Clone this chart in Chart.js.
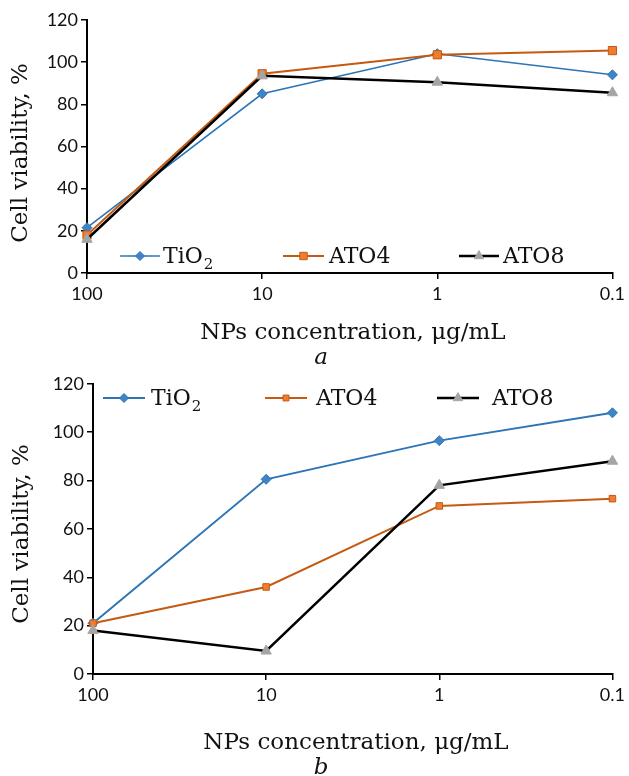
<!DOCTYPE html>
<html>
<head>
<meta charset="utf-8">
<script src="https://cdn.jsdelivr.net/npm/chart.js@4.4.0/dist/chart.umd.min.js"></script>
<style>
  body { margin: 0; background: #fff; }
  .panel { position: absolute; left: 0; }
</style>
</head>
<body>
<canvas id="chartA" class="panel" width="629" height="370" style="top:0"></canvas>
<canvas id="chartB" class="panel" width="629" height="406" style="top:370px"></canvas>
<script>
// concentrations on the x axis, ug/mL
var concentrations = ['100', '10', '1', '0.1'];
var seriesNames = ['TiO\u2082', 'ATO4', 'ATO8'];
var yTicks = [0, 20, 40, 60, 80, 100, 120];

// panel a
var tio2A = [21.5, 85, 104, 94];
var ato4A = [18, 94.5, 103.5, 105.5];
var ato8A = [16, 93.5, 90.5, 85.5];

// panel b
var tio2B = [21, 80.5, 96.5, 108];
var ato4B = [21, 36, 69.5, 72.5];
var ato8B = [18, 9.5, 78, 88];

var serif = '"DejaVu Serif", serif';

function makeDatasets(t, a4, a8, big) {
  return [
    {
      label: seriesNames[0], data: t, order: 3,
      borderColor: '#2e75b6', backgroundColor: '#3f85c6', borderWidth: big ? 1.6 : 2,
      pointStyle: 'rectRot', pointRadius: 5, pointBorderWidth: 1, pointBorderColor: '#2e75b6'
    },
    {
      label: seriesNames[1], data: a4, order: 2,
      borderColor: '#c55a11', backgroundColor: '#ed7d31', borderWidth: 2,
      pointStyle: 'rect', pointRadius: big ? 5.8 : 4.6, pointBorderWidth: 1, pointBorderColor: '#c55a11'
    },
    {
      label: seriesNames[2], data: a8, order: 1,
      borderColor: '#000', backgroundColor: '#a5a5a5', borderWidth: 2.5,
      pointStyle: 'triangle', pointRadius: 6, pointBorderWidth: 1, pointBorderColor: '#a5a5a5'
    }
  ];
}

// label text with a real lowered subscript for the "2" of TiO2
function drawLabel(ctx, text, x, y) {
  var parts = text.split('\u2082');
  ctx.font = '22px ' + serif;
  ctx.fillText(parts[0], x, y);
  if (parts.length > 1) {
    var w = ctx.measureText(parts[0]).width;
    ctx.font = '15px ' + serif;
    ctx.fillText('2', x + w + 1, y + 8);
  }
}

// titles, panel letter and the in-plot legend
var overlay = {
  id: 'overlay',
  afterDraw: function(chart, args, o) {
    var ctx = chart.ctx;
    ctx.save();
    ctx.fillStyle = '#111';
    ctx.textAlign = 'center';
    ctx.textBaseline = 'middle';

    ctx.font = '23px ' + serif;
    ctx.fillText('NPs concentration, \u03bcg/mL', o.xTitleX, o.xTitleY);
    ctx.font = 'italic 23px ' + serif;
    ctx.fillText(o.letter, o.letterX, o.letterY);

    ctx.save();
    ctx.translate(o.yTitleX, o.yTitleY);
    ctx.rotate(-Math.PI / 2);
    ctx.font = '23px ' + serif;
    ctx.fillText('Cell viability, %', 0, 0);
    ctx.restore();

    // legend
    ctx.textAlign = 'left';
    chart.data.datasets.forEach(function(ds, i) {
      var it = o.legend[i];
      ctx.strokeStyle = ds.borderColor;
      ctx.lineWidth = ds.borderWidth;
      ctx.beginPath();
      ctx.moveTo(it[0], o.legendY);
      ctx.lineTo(it[1], o.legendY);
      ctx.stroke();
      ctx.fillStyle = ds.backgroundColor;
      ctx.strokeStyle = ds.pointBorderColor;
      ctx.lineWidth = 1;
      Chart.helpers.drawPoint(ctx, {pointStyle: ds.pointStyle, radius: ds.pointRadius * 0.9, rotation: 0, borderWidth: 1},
        (it[0] + it[1]) / 2, o.legendY);
      ctx.fillStyle = '#111';
      drawLabel(ctx, ds.label, it[2], o.legendY + 1);
    });
    ctx.restore();
  }
};

function makeChart(id, datasets, box, extra) {
  var canvas = document.getElementById(id);
  return new Chart(canvas, {
    type: 'line',
    data: { labels: concentrations, datasets: datasets },
    plugins: [overlay],
    options: {
      responsive: false,
      animation: false,
      layout: { padding: { left: 0, top: box.top, right: canvas.width - box.right, bottom: 0 } },
      plugins: {
        legend: { display: false },
        tooltip: { enabled: false },
        overlay: extra
      },
      elements: { line: { tension: 0 } },
      scales: {
        x: {
          offset: false,
          border: { color: '#000', width: 2 },
          grid: { drawOnChartArea: false, color: '#000', lineWidth: 1.5, tickLength: 6 },
          ticks: { color: '#111', font: { family: 'Lato', size: 18 }, padding: 4, maxRotation: 0 },
          afterFit: function(s) { s.height = canvas.height - box.bottom; }
        },
        y: {
          min: 0, max: 120,
          afterBuildTicks: function(s) { s.ticks = yTicks.map(function(v) { return { value: v }; }); },
          border: { color: '#000', width: 2 },
          grid: { drawOnChartArea: false, color: '#000', lineWidth: 1.5, tickLength: 6 },
          ticks: { color: '#111', font: { family: 'Lato', size: 18 }, padding: 3 },
          afterFit: function(s) { s.width = box.left; }
        }
      }
    }
  });
}

makeChart('chartA', makeDatasets(tio2A, ato4A, ato8A, true),
  { left: 87, right: 616, top: 20, bottom: 273 },
  { xTitleX: 353, xTitleY: 333, letter: 'a', letterX: 321, letterY: 358, yTitleX: 21, yTitleY: 153,
    legendY: 256, legend: [[120, 160, 163], [283, 324, 329], [459, 499, 503]] });

makeChart('chartB', makeDatasets(tio2B, ato4B, ato8B, false),
  { left: 93, right: 618, top: 12, bottom: 304 },
  { xTitleX: 356, xTitleY: 373, letter: 'b', letterX: 321, letterY: 398, yTitleX: 22, yTitleY: 164,
    legendY: 28, legend: [[103, 145, 151], [265, 307, 316], [437, 479, 492]] });
</script>
</body>
</html>
